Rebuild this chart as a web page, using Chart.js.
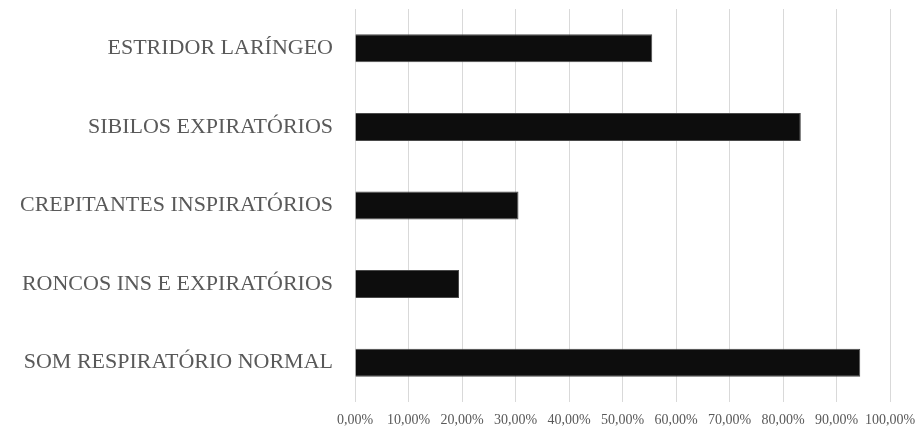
<!DOCTYPE html>
<html>
<head>
<meta charset="utf-8">
<script src="https://cdn.jsdelivr.net/npm/chart.js@4"></script>
<style>
html,body{margin:0;padding:0;background:#fff;}
#wrap{width:919px;height:429px;position:relative;}
</style>
</head>
<body>
<div id="wrap"><canvas id="c" width="919" height="429"></canvas></div>
<script>
const categories = ["ESTRIDOR LARÍNGEO","SIBILOS EXPIRATÓRIOS","CREPITANTES INSPIRATÓRIOS","RONCOS INS E EXPIRATÓRIOS","SOM RESPIRATÓRIO NORMAL"];
const values = [55.56, 83.33, 30.56, 19.44, 94.44];
const tickMin = 0, tickMax = 100, tickStep = 10;

new Chart(document.getElementById('c'), {
  type: 'bar',
  data: {
    labels: categories,
    datasets: [{
      data: values,
      backgroundColor: '#0d0d0d',
      borderColor: '#4a4a4a',
      borderWidth: 1,
      categoryPercentage: 1,
      barPercentage: 0.356
    }]
  },
  options: {
    indexAxis: 'y',
    responsive: false,
    animation: false,
    layout: { padding: { top: 9, right: 29, bottom: 0, left: 0 } },
    plugins: { legend: { display: false }, tooltip: { enabled: false } },
    scales: {
      x: {
        min: tickMin, max: tickMax,
        ticks: {
          stepSize: tickStep,
          color: '#595959',
          font: { family: 'Liberation Serif', size: 14 },
          padding: 10,
          maxRotation: 0,
          callback: v => v.toFixed(2).replace('.', ',') + '%'
        },
        grid: { color: '#d9d9d9', lineWidth: 1, drawTicks: false },
        border: { display: false },
        afterFit: s => { s.height = 27; s.paddingLeft = 0; s.paddingRight = 0; }
      },
      y: {
        ticks: {
          color: '#595959',
          font: { family: 'Liberation Serif', size: 22 },
          padding: 22
        },
        grid: { display: false, drawTicks: false },
        border: { display: false },
        afterFit: s => { s.width = 355; s.paddingTop = 0; s.paddingBottom = 0; }
      }
    }
  }
});
</script>
</body>
</html>
